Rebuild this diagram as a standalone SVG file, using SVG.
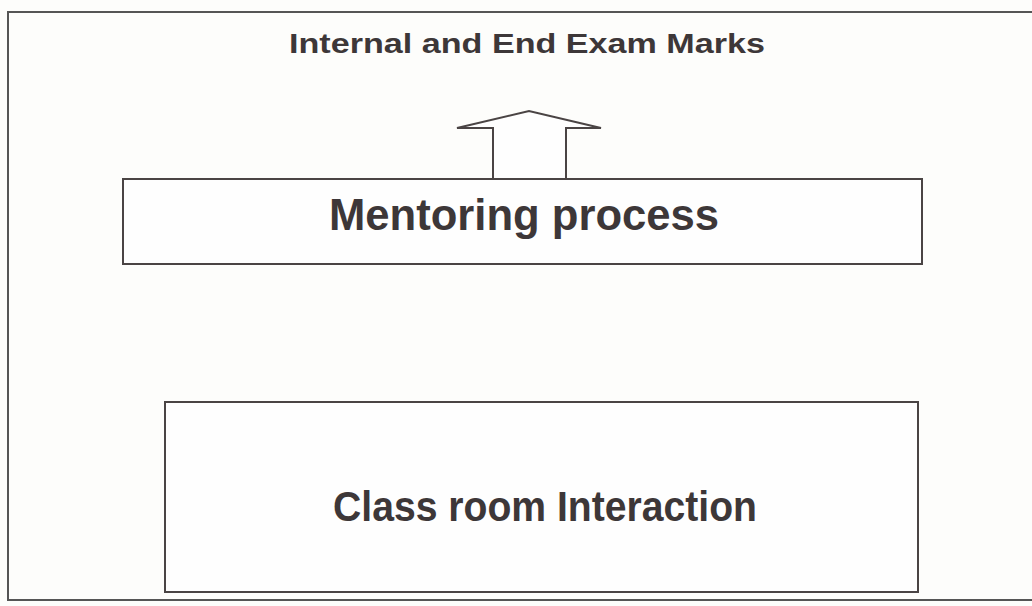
<svg xmlns="http://www.w3.org/2000/svg" width="1032" height="606" viewBox="0 0 1032 606">
<style>
.bg{fill:#fdfdfb}
.frame{fill:none;stroke:#555;stroke-width:2}
.box{fill:#fefefe;stroke:#4a4444;stroke-width:2}
.lbl{font-family:"Liberation Sans",Arial,sans-serif;font-weight:bold;fill:#3d3738;text-anchor:middle}
.arrow{fill:#fefefe;stroke:#4a4444;stroke-width:2;stroke-linejoin:miter}
</style>
<rect class="bg" x="0" y="0" width="1032" height="606"/>
<rect class="frame" x="8" y="12" width="1040" height="588"/>
<g id="marks">
<text class="lbl" x="527" y="53" font-size="28" textLength="476" lengthAdjust="spacingAndGlyphs">Internal and End Exam Marks</text>
</g>
<g id="connectors">
<path class="arrow" d="M493,179 L493,128 L457,128 L529,111 L601,128 L566,128 L566,179"/>
</g>
<g id="mentoring">
<rect class="box" x="123" y="179" width="799" height="85"/>
<text class="lbl" x="524" y="230" font-size="44" textLength="390" lengthAdjust="spacingAndGlyphs">Mentoring process</text>
</g>
<g id="classroom">
<rect class="box" x="165" y="402" width="753" height="190"/>
<text class="lbl" x="545" y="521" font-size="43" textLength="424" lengthAdjust="spacingAndGlyphs">Class room Interaction</text>
</g>
</svg>
